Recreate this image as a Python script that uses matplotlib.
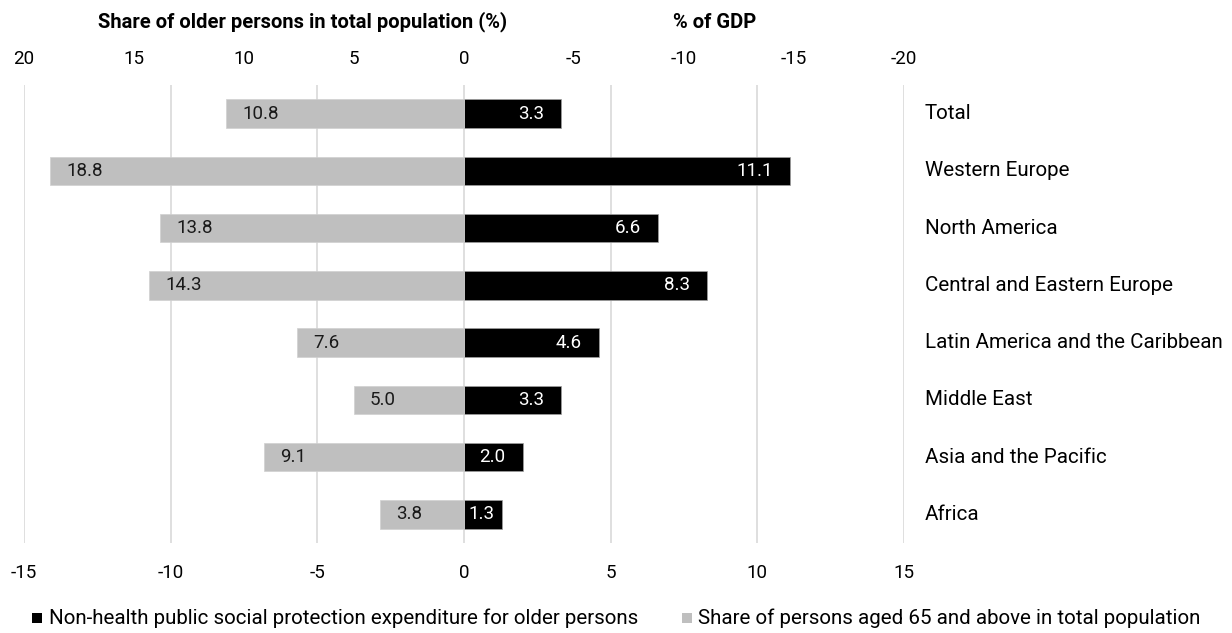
import matplotlib
matplotlib.use("Agg")
import matplotlib.pyplot as plt
from matplotlib.patches import Rectangle

plt.rcParams['font.family'] = ['Roboto', 'DejaVu Sans']

categories = ["Total", "Western Europe", "North America", "Central and Eastern Europe",
              "Latin America and the Caribbean", "Middle East", "Asia and the Pacific", "Africa"]
gdp_share = [3.3, 11.1, 6.6, 8.3, 4.6, 3.3, 2.0, 1.3]
pop_share = [10.8, 18.8, 13.8, 14.3, 7.6, 5.0, 9.1, 3.8]
bottom_ticks = [-15, -10, -5, 0, 5, 10, 15]
top_ticks = [20, 15, 10, 5, 0, -5, -10, -15, -20]

title_left = "Share of older persons in total population (%)"
title_right = "% of GDP"
legend_black = "Non-health public social protection expenditure for older persons"
legend_gray = "Share of persons aged 65 and above in total population"

BLACK = "#000000"
GRAY = "#BFBFBF"
GRID = "#D9D9D9"
FS_NUM = 13.5
FS_TXT = 14.8
FS_TITLE = 14.5

W, H = 1232, 633
fig = plt.figure(figsize=(W / 100, H / 100), dpi=100)
ax = fig.add_axes([24 / W, 1 - 543 / H, 880 / W, 458 / H])
ax2 = ax.twiny()

y = list(range(len(categories)))
bar_h = 0.5

ax.set_xlim(-15, 15)
ax.set_ylim(len(categories) - 0.5, -0.5)
ax2.set_xlim(20, -20)

ax.set_xticks(bottom_ticks)
ax.set_xticklabels([str(t) for t in bottom_ticks])
ax2.set_xticks(top_ticks)
ax2.set_xticklabels([str(t) for t in top_ticks])
ax.set_yticks([])
ax2.set_yticks([])

for a in (ax, ax2):
    for s in a.spines.values():
        s.set_visible(False)
    a.set_facecolor('none')
ax.tick_params(axis='x', length=0, labelsize=FS_NUM, colors='#000000', pad=15)
ax2.tick_params(axis='x', length=0, labelsize=FS_NUM, colors='#000000', pad=12)

ax.set_axisbelow(True)
ax.grid(axis='x', color=GRID, linewidth=1.2)
ax.grid(axis='y', visible=False)

ax2.barh(y, pop_share, height=bar_h, color=GRAY, edgecolor='#D0D0D0', linewidth=0.5, zorder=2)
ax.barh(y, gdp_share, height=bar_h, color=BLACK, edgecolor='#A0A0A0', linewidth=0.5, zorder=3)

# value labels
fig.canvas.draw()
r = fig.canvas.get_renderer()
px_per_unit = 880 / 30.0
for yi, v in zip(y, pop_share):
    ax2.annotate(f"{v:.1f}", xy=(v, yi), xytext=(16 * 0.72, 0), textcoords='offset points',
                 ha='left', va='center', fontsize=FS_NUM, color='#1a1a1a', zorder=5)
for yi, v in zip(y, gdp_share):
    t = ax.annotate(f"{v:.1f}", xy=(v, yi), xytext=(-17 * 0.72, 0), textcoords='offset points',
                    ha='right', va='center', fontsize=FS_NUM, color='white', zorder=5)
    tw = t.get_window_extent(r).width
    if v * px_per_unit - 17 - tw < 3:
        t.remove()
        ax.annotate(f"{v:.1f}", xy=(0, yi), xytext=(4 * 0.72, 0), textcoords='offset points',
                    ha='left', va='center', fontsize=FS_NUM, color='white', zorder=5)

# category labels on the right
for yi, c in zip(y, categories):
    ax.annotate(c, xy=(1, yi), xycoords=('axes fraction', 'data'), xytext=(21 * 0.72, 0),
                textcoords='offset points', ha='left', va='center', fontsize=FS_TXT, color='#000000')

# titles
fig.text(303 / W, 1 - 22 / H, title_left, ha='center', va='center', fontsize=FS_TITLE, fontweight='bold')
fig.text(715 / W, 1 - 22 / H, title_right, ha='center', va='center', fontsize=FS_TITLE, fontweight='bold')

# legend
ly = 1 - 618 / H
sq = 10
fig.patches.append(Rectangle((32 / W, ly - sq / 2 / H), sq / W, sq / H, transform=fig.transFigure,
                             facecolor=BLACK, edgecolor='none'))
fig.text(49 / W, ly, legend_black, ha='left', va='center', fontsize=FS_TXT)
fig.patches.append(Rectangle((682 / W, ly - sq / 2 / H), sq / W, sq / H, transform=fig.transFigure,
                             facecolor=GRAY, edgecolor='none'))
fig.text(698 / W, ly, legend_gray, ha='left', va='center', fontsize=FS_TXT)

fig.savefig("out.png", dpi=100)
